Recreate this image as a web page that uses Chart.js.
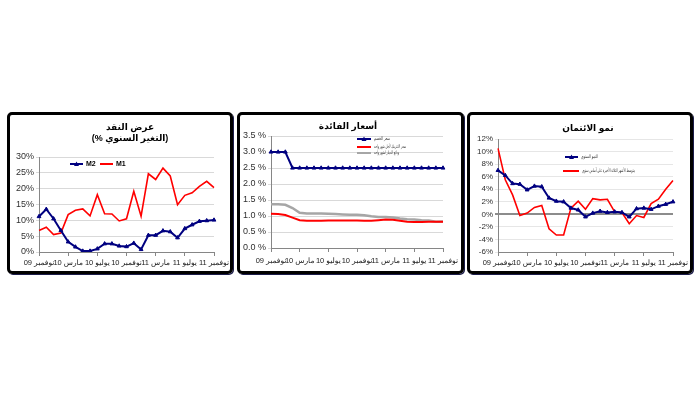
<!DOCTYPE html>
<html>
<head>
<meta charset="utf-8">
<script src="https://cdn.jsdelivr.net/npm/chart.js@4.4.1/dist/chart.umd.min.js"></script>
<style>
  html, body { margin: 0; padding: 0; background: #fff; }
  #page { position: relative; width: 700px; height: 394px; overflow: hidden; background: #fff; }
  .frame { position: absolute; top: 112px; height: 156px; border: 3px solid #000; border-radius: 5px; box-shadow: 1px 1px 0 #1c1c4a; }
  canvas { position: absolute; top: 115px; }
</style>
</head>
<body>
<div id="page">
  <div class="frame" style="left:7px;width:220px;"></div>
  <div class="frame" style="left:237px;width:221px;"></div>
  <div class="frame" style="left:467px;width:220px;"></div>
  <canvas id="moneyChart" width="220" height="156" style="left:10px;"></canvas>
  <canvas id="rateChart" width="221" height="156" style="left:240px;"></canvas>
  <canvas id="creditChart" width="220" height="156" style="left:470px;"></canvas>
</div>
<script>
// monthly, Nov 09 .. Nov 11
const months = [
  'نوفمبر 09', 'ديسمبر 09', 'يناير 10', 'فبراير 10', 'مارس 10', 'أبريل 10', 'مايو 10',
  'يونيو 10', 'يوليو 10', 'أغسطس 10', 'سبتمبر 10', 'أكتوبر 10', 'نوفمبر 10', 'ديسمبر 10',
  'يناير 11', 'فبراير 11', 'مارس 11', 'أبريل 11', 'مايو 11', 'يونيو 11', 'يوليو 11',
  'أغسطس 11', 'سبتمبر 11', 'أكتوبر 11', 'نوفمبر 11'
];
const labelEvery = 4;

// money supply (annual change %)
const moneyTitle = ['عرض النقد', '(% التغير السنوي)'];
const m2Label = 'M2';
const m2Values = [11.2, 13.5, 10.5, 6.8, 3.2, 1.6, 0.3, 0.3, 1.0, 2.6, 2.6, 1.9, 1.7,
  2.8, 0.8, 5.3, 5.3, 6.7, 6.4, 4.5, 7.4, 8.6, 9.7, 9.9, 10.1];
const m1Label = 'M1';
const m1Values = [6.8, 7.8, 5.5, 6.0, 11.8, 13.2, 13.6, 11.4, 18.1, 12.1, 12.0, 9.8, 10.5,
  19.2, 11.3, 24.7, 22.9, 26.5, 24.0, 14.9, 17.9, 18.7, 20.7, 22.3, 20.3];

// interest rates
const rateTitle = ['أسعار الفائدة'];
const discountLabel = 'سعر الخصم';
const discountValues = [3.0, 3.0, 3.0, 2.5, 2.5, 2.5, 2.5, 2.5, 2.5, 2.5, 2.5, 2.5, 2.5,
  2.5, 2.5, 2.5, 2.5, 2.5, 2.5, 2.5, 2.5, 2.5, 2.5, 2.5, 2.5];
const interbankLabel = 'سعر الانتربنك لأجل شهر واحد';
const interbankValues = [1.07, 1.06, 1.03, 0.95, 0.87, 0.85, 0.85, 0.85, 0.86, 0.86, 0.86, 0.86, 0.86,
  0.85, 0.85, 0.87, 0.89, 0.88, 0.85, 0.82, 0.81, 0.81, 0.82, 0.82, 0.82];
const depositLabel = 'ودائع الدينار لشهر واحد';
const depositValues = [1.37, 1.37, 1.35, 1.25, 1.10, 1.08, 1.08, 1.08, 1.07, 1.06, 1.05, 1.04, 1.04,
  1.02, 0.99, 0.97, 0.97, 0.95, 0.92, 0.90, 0.89, 0.87, 0.86, 0.82, 0.83];

// credit growth
const creditTitle = ['نمو الائتمان'];
const annualLabel = 'النمو السنوي';
const annualValues = [7.0, 6.2, 4.9, 4.8, 3.9, 4.5, 4.4, 2.6, 2.1, 2.0, 1.0, 0.7, -0.4,
  0.2, 0.5, 0.3, 0.4, 0.3, -0.4, 0.9, 1.0, 0.8, 1.3, 1.6, 2.0];
const threeMonthLabel = 'متوسط الأشهر الثلاثة الأخيرة على أساس سنوي';
const threeMonthValues = [10.5, 5.5, 3.1, -0.2, 0.2, 1.1, 1.4, -2.3, -3.3, -3.3, 1.0, 2.1, 0.8,
  2.5, 2.3, 2.4, 0.4, 0.3, -1.5, -0.2, -0.5, 1.7, 2.4, 4.0, 5.4];

const FONT = "'Liberation Sans', 'DejaVu Sans', sans-serif";
const NAVY = '#000080';
const RED = '#ff0000';
const GREY = '#a6a6a6';

// titles + small legends drawn on top of the chart
function panelDecor(title, titleX, titleY, legend) {
    return {
        id: 'panelDecor',
        afterDraw(chart) {
            const ctx = chart.ctx;
            ctx.save();
            ctx.fillStyle = '#000';
            ctx.textAlign = 'center';
            ctx.textBaseline = 'middle';
            ctx.font = 'bold 9px ' + FONT;
            title.forEach((line, i) => ctx.fillText(line, titleX, titleY + i * 11));

            chart.data.datasets.forEach((ds, i) => {
                const item = legend.items[i];
                ctx.strokeStyle = ds.borderColor;
                ctx.lineWidth = 2;
                ctx.beginPath();
                ctx.moveTo(item.x, item.y);
                ctx.lineTo(item.x + item.w, item.y);
                ctx.stroke();
                if (ds.pointRadius > 0) {
                    const mx = item.x + item.w / 2;
                    ctx.fillStyle = ds.borderColor;
                    ctx.beginPath();
                    ctx.moveTo(mx, item.y - 2.5);
                    ctx.lineTo(mx + 2.5, item.y + 2);
                    ctx.lineTo(mx - 2.5, item.y + 2);
                    ctx.closePath();
                    ctx.fill();
                }
                ctx.fillStyle = legend.color;
                ctx.textAlign = 'left';
                ctx.font = legend.font;
                ctx.fillText(ds.label, item.x + item.w + 3, item.y, item.maxText);
            });
            ctx.restore();
        }
    };
}

function lineSet(label, data, color, width, markers) {
    return {
        label: label,
        data: data,
        borderColor: color,
        backgroundColor: color,
        borderWidth: width,
        tension: 0,
        pointStyle: 'triangle',
        pointRadius: markers ? 2.2 : 0,
        pointBorderWidth: 1,
        pointBackgroundColor: color,
        pointBorderColor: color
    };
}

function makeChart(canvasId, datasets, box, yAxis, decor) {
    return new Chart(document.getElementById(canvasId), {
        type: 'line',
        data: { labels: months, datasets: datasets },
        options: {
            responsive: false,
            animation: false,
            layout: { padding: { left: 0, top: box.top, right: box.right, bottom: 0 } },
            plugins: {
                legend: { display: false },
                tooltip: { enabled: false }
            },
            scales: {
                x: {
                    offset: false,
                    border: { color: '#868686' },
                    grid: {
                        drawOnChartArea: false,
                        tickLength: 4,
                        color: (c) => c.index % labelEvery === 0 ? '#868686' : 'rgba(0,0,0,0)'
                    },
                    ticks: {
                        autoSkip: false,
                        maxRotation: 0,
                        minRotation: 0,
                        padding: box.labelPad,
                        color: '#202020',
                        font: { family: FONT, size: 7.5 },
                        callback: (v, i) => i % labelEvery === 0 ? months[i] : ''
                    },
                    afterFit: (s) => { s.height = box.bottom; s.paddingLeft = 0; s.paddingRight = 0; }
                },
                y: {
                    min: yAxis.min,
                    max: yAxis.max,
                    border: { color: '#868686' },
                    grid: {
                        tickLength: 3,
                        color: yAxis.gridColor || '#d9d9d9',
                        lineWidth: yAxis.gridWidth || 1
                    },
                    ticks: {
                        stepSize: yAxis.step,
                        autoSkip: false,
                        padding: 2,
                        color: '#303030',
                        font: { family: FONT, size: yAxis.fontSize || 9 },
                        callback: yAxis.format
                    },
                    afterFit: (s) => { s.width = box.left; }
                }
            }
        },
        plugins: [decor]
    });
}

makeChart('moneyChart',
    [lineSet(m2Label, m2Values, NAVY, 2, true), lineSet(m1Label, m1Values, RED, 1.6, false)],
    { left: 29, top: 42, right: 16, bottom: 19, labelPad: 2 },
    { min: 0, max: 30, step: 5, format: (v) => v + '%' },
    panelDecor(moneyTitle, 120, 13, {
        font: 'bold 7px ' + FONT,
        color: '#000',
        items: [{ x: 60, y: 49, w: 13, maxText: 20 }, { x: 90, y: 49, w: 13, maxText: 20 }]
    }));

makeChart('rateChart',
    [lineSet(discountLabel, discountValues, NAVY, 2, true),
     lineSet(interbankLabel, interbankValues, RED, 2, false),
     lineSet(depositLabel, depositValues, GREY, 2.5, false)],
    { left: 31, top: 21, right: 18, bottom: 23, labelPad: 4 },
    { min: 0, max: 3.5, step: 0.5, format: (v) => v.toFixed(1) + ' %' },
    panelDecor(rateTitle, 108, 12, {
        font: '5px ' + FONT,
        color: '#333',
        items: [{ x: 117, y: 24, w: 14, maxText: 16 },
                { x: 117, y: 32, w: 14, maxText: 32 },
                { x: 117, y: 38, w: 14, maxText: 25 }]
    }));

makeChart('creditChart',
    [lineSet(annualLabel, annualValues, NAVY, 2, true),
     lineSet(threeMonthLabel, threeMonthValues, RED, 1.6, false)],
    { left: 28, top: 24, right: 17, bottom: 19, labelPad: 2 },
    {
        min: -6, max: 12, step: 2, fontSize: 8, format: (v) => v + '%',
        gridColor: (c) => c.tick && c.tick.value === 0 ? '#8c8c8c' : '#e6e6e6',
        gridWidth: (c) => c.tick && c.tick.value === 0 ? 2 : 1
    },
    panelDecor(creditTitle, 118, 14, {
        font: '5px ' + FONT,
        color: '#333',
        items: [{ x: 95, y: 42, w: 13, maxText: 17 }, { x: 93, y: 56, w: 16, maxText: 53 }]
    }));
</script>
</body>
</html>
